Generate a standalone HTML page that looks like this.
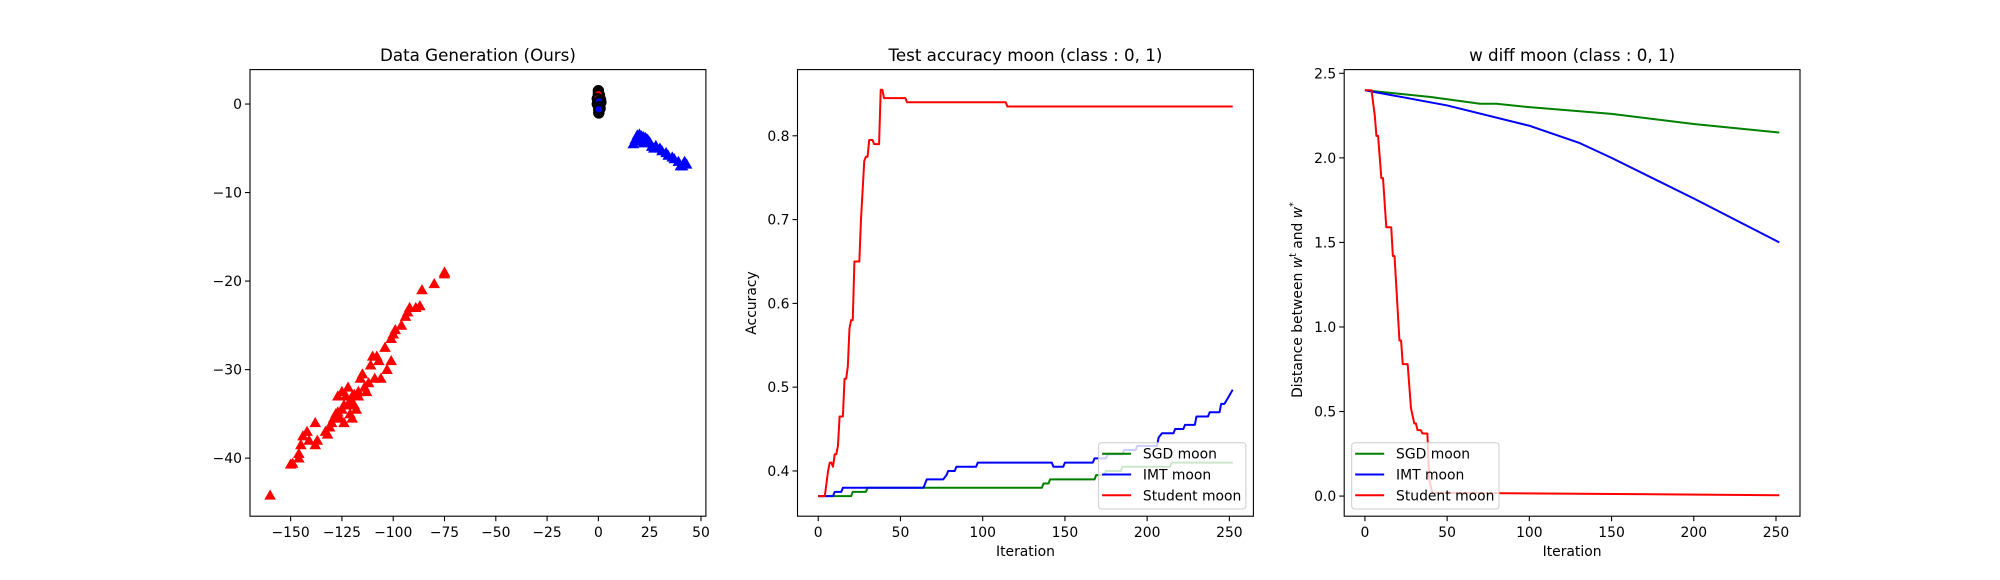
<!DOCTYPE html>
<html><head><meta charset="utf-8"><style>
body{margin:0;background:#fff;}
svg{display:block;font-family:"DejaVu Sans","Liberation Sans",sans-serif;}
</style></head><body>
<svg id="fig" width="2000" height="580" viewBox="0 0 2000 580" xmlns="http://www.w3.org/2000/svg"></svg>
<script>
// ---- Panel 1 data (scatter) ----
const redTriX=[-160,-150,-149,-146,-146,-145,-144,-142,-141,-138,-138,-137,-133,-132,-131,-130,-128,-127,-125,-124,-123,-122,-121,-120,-119,-118,-117,-116,-115,-114,-112,-111,-110,-109,-108,-107,-106,-104,-103,-101,-101,-100,-99,-96,-94,-93,-92,-89,-87,-86,-80,-75,-75,-126,-124,-120,-118,-113,-122,-125,-121,-117,-119,-127,-129];
const redTriY=[-44.2,-40.7,-40.6,-39.5,-40,-38.5,-37.5,-37,-38,-36,-38.5,-38,-37,-37.3,-36.5,-36,-35,-33,-32.5,-34,-33,-32,-35,-33,-34,-33,-32.5,-31,-30.5,-32,-31.5,-29.5,-28.5,-31,-28.5,-29,-31,-27.5,-30,-29,-26.5,-26,-25.5,-25,-24,-23.5,-23,-23,-22.8,-21,-20.3,-19.2,-19,-35.5,-36,-35.5,-34.5,-32.5,-34,-34.5,-33.5,-33,-32.8,-34.8,-35.5];
const blueTriX=[17,18,19,20,21,22,23,24,25,26,27,30,31,33,34,36,37,39,40,41,42,43,19,22,28];
const blueTriY=[-4.5,-4,-3.5,-3.4,-3.6,-3.7,-3.8,-4,-4.3,-4.8,-5,-5,-5.3,-5.5,-5.8,-6,-6.2,-6.5,-7,-7,-6.5,-6.8,-4.2,-4.4,-4.7];
const blackCircX=[0,0.5,1,-0.5,0.8,0.2,1.2,0.3];
const blackCircY=[1.5,1,0.5,0,-0.5,-1,0.2,0.8];
const redCircX=[0,-0.5,-0.3];
const redCircY=[1.1,0.6,0.1];
const blueCircX=[0.3,0.5,0.2];
const blueCircY=[0.3,-0.3,-0.6];
const p1XTicks=[-150,-125,-100,-75,-50,-25,0,25,50];
const p1YTicks=[0,-10,-20,-30,-40];
// ---- Panel 2 data (accuracy) ----
const accStudentX=[0,4,6,7,8,9,10,11,12,13,15,16,17,18,19,20,21,22,25,26,28,29,30,31,33,34,37,38,39,40,53,54,114,115,252];
const accStudentY=[0.37,0.37,0.40,0.41,0.41,0.405,0.42,0.42,0.43,0.465,0.465,0.51,0.51,0.525,0.57,0.58,0.58,0.65,0.65,0.70,0.77,0.775,0.775,0.795,0.795,0.79,0.79,0.855,0.855,0.845,0.845,0.84,0.84,0.835,0.835];
const accSgdX=[0,20,21,29,30,136,137,140,141,168,169,174,175,184,185,214,215,252];
const accSgdY=[0.37,0.37,0.375,0.375,0.38,0.38,0.385,0.385,0.39,0.39,0.395,0.395,0.40,0.40,0.405,0.405,0.41,0.41];
const accImtX=[0,9,10,14,15,64,65,66,76,78,79,83,84,96,97,142,143,149,150,167,168,175,176,185,186,193,194,206,207,209,216,217,222,223,229,230,237,238,244,245,247,250,252];
const accImtY=[0.37,0.37,0.375,0.375,0.38,0.38,0.385,0.39,0.39,0.395,0.40,0.40,0.405,0.405,0.41,0.41,0.405,0.405,0.41,0.41,0.415,0.415,0.42,0.42,0.425,0.425,0.43,0.43,0.44,0.445,0.445,0.45,0.45,0.455,0.455,0.465,0.465,0.47,0.47,0.48,0.48,0.49,0.497];
const p2XTicks=[0,50,100,150,200,250];
const p2YTicks=[0.4,0.5,0.6,0.7,0.8];
// ---- Panel 3 data (w diff) ----
const wSgdX=[0,20,40,70,80,100,150,200,252];
const wSgdY=[2.40,2.38,2.36,2.32,2.32,2.30,2.26,2.20,2.15];
const wImtX=[0,50,100,130,150,200,252];
const wImtY=[2.40,2.31,2.19,2.09,2.00,1.76,1.50];
const wStudentX=[0,4,6,7,8,10,11,13,16,17,18,21,22,23,26,28,30,31,32,34,35,38,39,41,252];
const wStudentY=[2.40,2.40,2.25,2.13,2.13,1.88,1.88,1.59,1.59,1.42,1.42,0.92,0.92,0.78,0.78,0.52,0.43,0.43,0.39,0.39,0.37,0.37,0.10,0.02,0.005];
const p3XTicks=[0,50,100,150,200,250];
const p3YTicks=[0.0,0.5,1.0,1.5,2.0,2.5];
const legendLabels=["SGD moon","IMT moon","Student moon"];
const legendColors=["#008000","#0000ff","#ff0000"];

const NS="http://www.w3.org/2000/svg";
const fig=document.getElementById('fig');
function mk(tag,attrs,parent){const e=document.createElementNS(NS,tag);for(const k in attrs)e.setAttribute(k,attrs[k]);(parent||fig).appendChild(e);return e;}
const TOP=69.6,BOT=516.2;
function axes(name,x0,x1,xmin,xmax,ymin,ymax){
  const g=mk('g',{});
  
  
  return {g,x0,x1,sx:v=>x0+(v-xmin)/(xmax-xmin)*(x1-x0),sy:v=>BOT-(v-ymin)/(ymax-ymin)*(BOT-TOP)};
}
function frame(a,xt,yt,fmt){
  const r=mk('rect',{x:a.x0,y:TOP,width:a.x1-a.x0,height:BOT-TOP,fill:'none',stroke:'#000','stroke-width':1.1},a.g);
  
  
  xt.forEach(v=>{const x=a.sx(v);
    mk('line',{x1:x,x2:x,y1:BOT,y2:BOT+5,stroke:'#000','stroke-width':1.1},a.g);
    const t=mk('text',{x:x,y:BOT+21,'text-anchor':'middle','font-size':'13.9px',fill:'#000'},a.g);
    
    
    t.textContent=String(v).replace('-','\u2212');});
  yt.forEach(v=>{const y=a.sy(v);
    mk('line',{x1:a.x0-5,x2:a.x0,y1:y,y2:y,stroke:'#000','stroke-width':1.1},a.g);
    const t=mk('text',{x:a.x0-8,y:y+5,'text-anchor':'end','font-size':'13.9px',fill:'#000'},a.g);
    
    
    t.textContent=fmt(v).replace('-','\u2212');});
}
function title(a,txt){const t=mk('text',{x:(a.x0+a.x1)/2,y:61,'text-anchor':'middle','font-size':'16.7px',fill:'#000'},a.g);
  
  
  t.textContent=txt;}
function xlabel(a){const t=mk('text',{x:(a.x0+a.x1)/2,y:556,'text-anchor':'middle','font-size':'13.9px',fill:'#000'},a.g);
  
  
  t.textContent='Iteration';}
function line(a,xs,ys,color,name){
  const d=xs.map((x,i)=>(i?'L':'M')+a.sx(x).toFixed(2)+','+a.sy(ys[i]).toFixed(2)).join('');
  const p=mk('path',{d:d,fill:'none',stroke:color,'stroke-width':2,'stroke-linejoin':'round'},a.g);
  
  
}
function legend(a,lx){
  const lg=mk('g',{},a.g);
  
  
  mk('rect',{x:lx,y:442.7,width:147.3,height:66.3,rx:3,fill:'rgba(255,255,255,0.8)',stroke:'#cccccc','stroke-width':1},lg);
  legendLabels.forEach((l,i)=>{const y=453.7+i*20.8;
    const e=mk('g',{},lg);
    
    
    mk('line',{x1:lx+3.5,x2:lx+32.5,y1:y,y2:y,stroke:legendColors[i],'stroke-width':2},e);
    const t=mk('text',{x:lx+44.3,y:y+5,'font-size':'13.9px',fill:'#000'},e);
    t.textContent=l;});
}
// Panel 1
const a1=axes('scatter-panel',250,705.9,-169.8,52.4,-46.56,3.89);
function tri(a,x,y,c){const X=a.sx(x),Y=a.sy(y),s=5.8;
  const p=mk('polygon',{points:`${X},${Y-s} ${X-s},${Y+s*0.75} ${X+s},${Y+s*0.75}`,fill:c},a.g);
  
  }
function circ(a,x,y,c){const p=mk('circle',{cx:a.sx(x),cy:a.sy(y),r:4.5,fill:c,stroke:'#000','stroke-width':2.5},a.g);
  
  }
redTriX.forEach((x,i)=>tri(a1,x,redTriY[i],'#ff0000'));
blueTriX.forEach((x,i)=>tri(a1,x,blueTriY[i],'#0000ff'));
blackCircX.forEach((x,i)=>circ(a1,x,blackCircY[i],'#000'));
redCircX.forEach((x,i)=>circ(a1,x,redCircY[i],'#ff0000'));
blueCircX.forEach((x,i)=>circ(a1,x,blueCircY[i],'#0000ff'));
frame(a1,p1XTicks,p1YTicks,v=>String(v));
title(a1,'Data Generation (Ours)');
// Panel 2
const a2=axes('accuracy-panel',797.5,1253.4,-12.6,264.6,0.346,0.879);
line(a2,accSgdX,accSgdY,'#008000','sgd-accuracy-line');
line(a2,accImtX,accImtY,'#0000ff','imt-accuracy-line');
line(a2,accStudentX,accStudentY,'#ff0000','student-accuracy-line');
frame(a2,p2XTicks,p2YTicks,v=>v.toFixed(1));
title(a2,'Test accuracy moon (class : 0, 1)');
xlabel(a2);
{const t=mk('text',{x:0,y:0,'text-anchor':'middle','font-size':'13.9px',fill:'#000',transform:'translate(756,303) rotate(-90)'},a2.g);
 
 
 t.textContent='Accuracy';}
legend(a2,1098.6);
// Panel 3
const a3=axes('w-diff-panel',1344.2,1800,-12.6,264.6,-0.119,2.522);
line(a3,wSgdX,wSgdY,'#008000','sgd-wdiff-line');
line(a3,wImtX,wImtY,'#0000ff','imt-wdiff-line');
line(a3,wStudentX,wStudentY,'#ff0000','student-wdiff-line');
frame(a3,p3XTicks,p3YTicks,v=>v.toFixed(1));
title(a3,'w diff moon (class : 0, 1)');
xlabel(a3);
{const t=mk('text',{x:0,y:0,'text-anchor':'middle','font-size':'13.9px',fill:'#000',transform:'translate(1302,300) rotate(-90)'},a3.g);
 
 
 t.innerHTML='Distance between <tspan font-style="italic">w</tspan><tspan font-size="9.5px" dy="-6">t</tspan><tspan dy="6"> and </tspan><tspan font-style="italic">w</tspan><tspan font-size="9.5px" dy="-6">*</tspan>';}
legend(a3,1351.7);
</script>
</body></html>
